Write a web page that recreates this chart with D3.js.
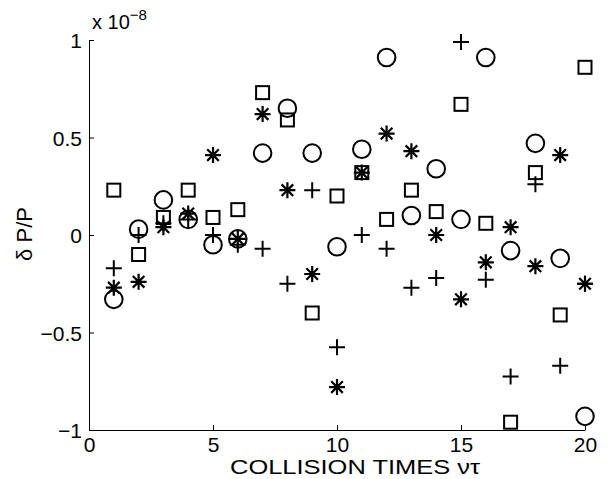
<!DOCTYPE html>
<html lang="en">
<head>
<meta charset="UTF-8">
<title>Collision times</title>
<script src="https://d3js.org/d3.v7.min.js"></script>
<style>
    body { margin: 0; background: #fff; }
    text { font-family: "Liberation Sans", Arial, sans-serif; fill: #000; }
    .axis path, .axis line { stroke: #000; stroke-width: 1; }
</style>
</head>
<body>
<div id="chart"></div>
<script>
    // collision times (x) and the four series (units of 1e-8)
    const times = d3.range(1, 21);
    const circles = [-0.33, 0.03, 0.18, 0.08, -0.05, -0.02, 0.42, 0.65, 0.42, -0.06,
                     0.44, 0.91, 0.10, 0.34, 0.08, 0.91, -0.08, 0.47, -0.12, -0.93];
    const squares = [0.23, -0.10, 0.09, 0.23, 0.09, 0.13, 0.73, 0.59, -0.40, 0.20,
                     0.32, 0.08, 0.23, 0.12, 0.67, 0.06, -0.96, 0.32, -0.41, 0.86];
    const pluses = [-0.17, 0.00, 0.06, 0.08, 0.00, -0.05, -0.07, -0.25, 0.23, -0.575,
                    0.00, -0.07, -0.27, -0.22, 0.99, -0.23, -0.725, 0.26, -0.67, -0.25];
    const stars = [-0.27, -0.24, 0.04, 0.11, 0.41, -0.02, 0.62, 0.23, -0.20, -0.78,
                   0.32, 0.52, 0.43, 0.00, -0.33, -0.14, 0.04, -0.16, 0.41, -0.25];
    const xTicks = [0, 5, 10, 15, 20];
    const yTicks = [-1, -0.5, 0, 0.5, 1];

    const W = 611, H = 479;
    const margin = { left: 89, right: 585, top: 40, bottom: 430 };

    const svg = d3.select("#chart").append("svg")
        .attr("width", W).attr("height", H);
    svg.append("rect").attr("width", W).attr("height", H).attr("fill", "#fff");

    const x = d3.scaleLinear().domain([0, 20]).range([margin.left, margin.right]);
    const y = d3.scaleLinear().domain([-1, 1]).range([margin.bottom, margin.top]);

    const fmt = d => (d < 0 ? "\u2212" + Math.abs(d) : String(d));

    // axes, ticks pointing inward like matlab
    const gx = svg.append("g").attr("class", "axis")
        .attr("transform", "translate(0," + margin.bottom + ")")
        .call(d3.axisBottom(x).tickValues(xTicks).tickFormat(fmt).tickSizeInner(-5).tickSizeOuter(0).tickPadding(7));
    const gy = svg.append("g").attr("class", "axis")
        .attr("transform", "translate(" + margin.left + ",0)")
        .call(d3.axisLeft(y).tickValues(yTicks).tickFormat(fmt).tickSizeInner(-5).tickSizeOuter(0).tickPadding(7));
    svg.selectAll(".axis text").style("font-size", "21px").style("font-family", '"Liberation Sans", Arial, sans-serif');
    gx.selectAll("text").attr("dy", "0.72em");
    gy.selectAll("text").attr("dy", "0.36em");

    // exponent label
    const ex = svg.append("text").attr("x", margin.left + 3).attr("y", 29).style("font-size", "20px");
    ex.append("tspan").text("x 10");
    ex.append("tspan").attr("dy", -9).style("font-size", "15px").text("\u22128");

    // axis titles
    svg.append("text")
        .attr("x", 355).attr("y", 474)
        .attr("text-anchor", "middle")
        .style("font-size", "21px")
        .attr("textLength", 250)
        .attr("lengthAdjust", "spacingAndGlyphs")
        .text("COLLISION TIMES \u03bd\u03c4");
    svg.append("text")
        .attr("transform", "translate(32,234) rotate(-90)")
        .attr("text-anchor", "middle")
        .style("font-size", "22px")
        .text("\u03b4 P/P");

    const marks = svg.append("g")
        .attr("fill", "none").attr("stroke", "#000").attr("stroke-width", 2);

    // circles
    marks.selectAll(".circ").data(times).enter().append("circle")
        .attr("class", "circ")
        .attr("cx", d => x(d)).attr("cy", (d, i) => y(circles[i]))
        .attr("r", 8.8);

    // squares
    const s = 13;
    marks.selectAll(".sq").data(times).enter().append("rect")
        .attr("class", "sq")
        .attr("x", d => x(d) - s / 2).attr("y", (d, i) => y(squares[i]) - s / 2)
        .attr("width", s).attr("height", s);

    // pluses
    const p = 8;
    marks.selectAll(".plus").data(times).enter().append("path")
        .attr("class", "plus")
        .attr("d", (d, i) => {
            const cx = x(d), cy = y(pluses[i]);
            return `M${cx - p},${cy}H${cx + p}M${cx},${cy - p}V${cy + p}`;
        });

    // stars (asterisk: + and x)
    const a = 8, b = 5.8;
    marks.selectAll(".star").data(times).enter().append("path")
        .attr("class", "star")
        .attr("stroke-width", 2.2)
        .attr("d", (d, i) => {
            const cx = x(d), cy = y(stars[i]);
            return `M${cx - a},${cy}H${cx + a}M${cx},${cy - a}V${cy + a}` +
                `M${cx - b},${cy - b}L${cx + b},${cy + b}M${cx - b},${cy + b}L${cx + b},${cy - b}`;
        });
</script>
</body>
</html>
